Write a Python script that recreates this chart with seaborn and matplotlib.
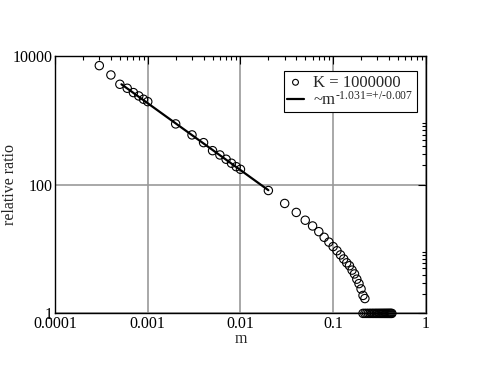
import numpy as np
import pandas as pd
import matplotlib
matplotlib.use("Agg")
import matplotlib.pyplot as plt
import matplotlib.ticker as mticker
import seaborn as sns

# data
m_vals = [0.0003, 0.0004, 0.0005, 0.0006, 0.0007, 0.0008, 0.0009, 0.001,
          0.002, 0.003, 0.004, 0.005, 0.006, 0.007, 0.008, 0.009, 0.01,
          0.02, 0.03, 0.04, 0.05, 0.06, 0.07, 0.08, 0.09, 0.1,
          0.11, 0.12, 0.13, 0.14, 0.15, 0.16, 0.17, 0.18, 0.19, 0.2, 0.21, 0.22]
ratio_vals = [7050, 5050, 3620, 3140, 2690, 2385, 2120, 1945,
              877, 592, 449, 337, 289, 248, 215, 190, 173,
              81, 51, 37, 28, 22.8, 18.6, 15.2, 12.8, 10.9,
              9.4, 8.1, 7.0, 6.1, 5.5, 4.7, 4.1, 3.4, 2.9, 2.4, 1.9, 1.7]
# points piled up at ratio = 1
tail_m = [0.21, 0.22, 0.23, 0.24, 0.25, 0.26, 0.27, 0.28, 0.29, 0.30, 0.31,
          0.32, 0.33, 0.34, 0.35, 0.36, 0.37, 0.38, 0.39, 0.40, 0.41, 0.42, 0.43]
tail_ratio = [1.0] * len(tail_m)

# power-law fit line endpoints
fit_m = [0.00052, 0.02]
fit_ratio = [3620, 82]

df = pd.DataFrame({"m": m_vals + tail_m, "ratio": ratio_vals + tail_ratio})
fit = pd.DataFrame({"m": fit_m, "ratio": fit_ratio})

sns.set_style("white")
plt.rcParams["font.family"] = ["Liberation Serif", "DejaVu Serif"]
plt.rcParams["mathtext.fontset"] = "custom"
plt.rcParams["mathtext.rm"] = "Liberation Serif"
plt.rcParams["mathtext.it"] = "Liberation Serif"

fig = plt.figure(figsize=(4.79, 3.70), dpi=100)
ax = fig.add_axes([0.115, 0.153, 0.774, 0.696])

sns.scatterplot(data=df, x="m", y="ratio", ax=ax, marker="o", s=36,
                facecolor="none", edgecolor="black", linewidth=0.8,
                clip_on=False, label="K = 1000000", zorder=3)
sns.lineplot(data=fit, x="m", y="ratio", ax=ax, color="black", linewidth=1.6,
             label=r"~m$^{\text{-1.031=+/-0.007}}$", zorder=4)

ax.set_xscale("log")
ax.set_yscale("log")
ax.set_xlim(0.0001, 1)
ax.set_ylim(1, 10000)

ax.xaxis.set_major_locator(mticker.FixedLocator([0.0001, 0.001, 0.01, 0.1, 1]))
ax.xaxis.set_major_formatter(mticker.FixedFormatter(["0.0001", "0.001", "0.01", "0.1", "1"]))
ax.xaxis.set_minor_locator(mticker.LogLocator(base=10, subs=np.arange(2, 10)))
ax.xaxis.set_minor_formatter(mticker.NullFormatter())

ax.yaxis.set_major_locator(mticker.FixedLocator([1, 100, 10000]))
ax.yaxis.set_major_formatter(mticker.FixedFormatter(["1", "100", "10000"]))
y_minor = [2, 3, 4, 5, 6, 7, 8, 9, 200, 300, 400, 500, 600, 700, 800, 900]
ax.yaxis.set_minor_locator(mticker.FixedLocator(y_minor))
ax.yaxis.set_minor_formatter(mticker.NullFormatter())

ax.tick_params(which="both", direction="in", top=True, right=True,
               labelsize=11.5, colors="black")
ax.tick_params(which="major", length=6, width=0.8, pad=2)
ax.tick_params(which="minor", length=3, width=0.8)

ax.grid(True, which="major", color="#999999", linewidth=1.2)
ax.set_axisbelow(True)
for sp in ax.spines.values():
    sp.set_color("black")
    sp.set_linewidth(1.0)

ax.set_xlabel("m", fontsize=11.5, labelpad=-1)
ax.set_ylabel("relative ratio", fontsize=11.5)
ax.yaxis.set_label_coords(-0.1, 0.5)

leg = ax.legend(loc="upper right", bbox_to_anchor=(0.975, 0.94), fontsize=12,
                frameon=True, fancybox=False, framealpha=1, edgecolor="black",
                markerscale=0.7, handlelength=1.0, handletextpad=0.55,
                borderpad=0.2, labelspacing=0.0, borderaxespad=0)
leg.get_frame().set_linewidth(0.8)

fig.savefig("out.png", dpi=100)
plt.close(fig)
